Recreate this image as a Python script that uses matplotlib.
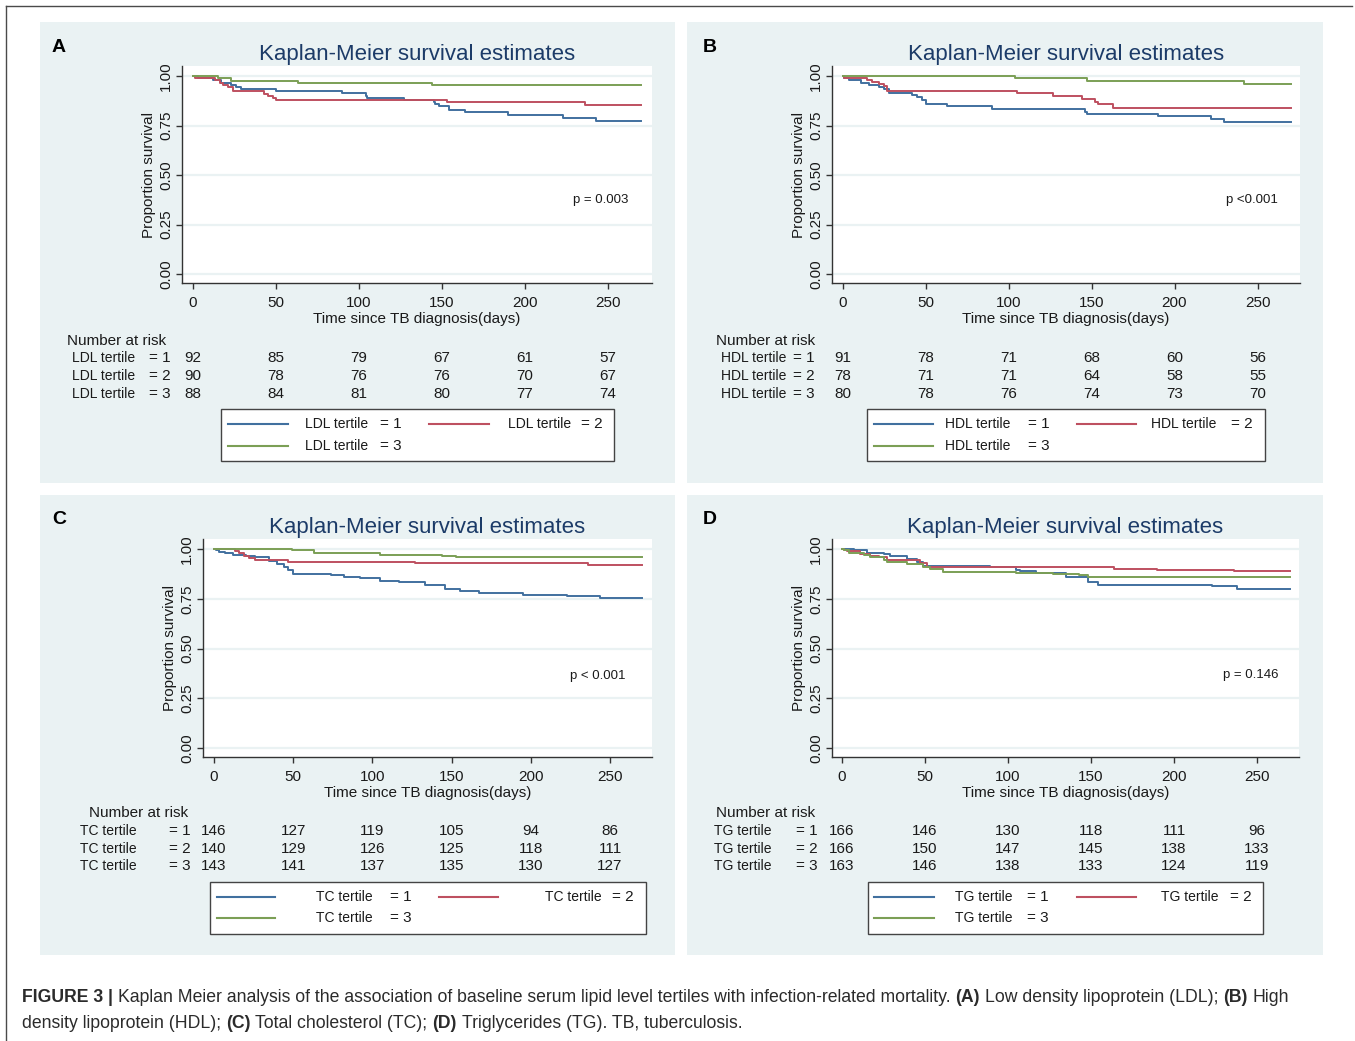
import matplotlib
matplotlib.use('Agg')
import matplotlib.pyplot as plt
from matplotlib.patches import Rectangle
from matplotlib.lines import Line2D
from matplotlib.transforms import blended_transform_factory

W, H = 1355, 1041
plt.rcParams['font.family'] = ['Liberation Sans', 'DejaVu Sans']

# ---------------- data ----------------
TIME_TICKS = [0, 50, 100, 150, 200, 250]
SURV_TICKS = [0.0, 0.25, 0.50, 0.75, 1.00]
SURV_TICKLABELS = ['0.00', '0.25', '0.50', '0.75', '1.00']
TITLE = 'Kaplan-Meier survival estimates'
XLABEL = 'Time since TB diagnosis(days)'
YLABEL = 'Proportion survival'
GROUPS = ['= 1', '= 2', '= 3']

# Panel A: LDL tertiles
A_t1 = [0, 3, 12, 17, 23, 26, 29, 50, 90, 104, 105, 127, 145, 146, 148, 154, 164, 190, 223, 243, 270]
A_s1 = [1, .989, .978, .967, .956, .945, .934, .923, .912, .901, .890, .879, .868, .857, .846, .828, .816, .803, .790, .775, .775]
A_t2 = [0, 1, 13, 16, 18, 21, 24, 43, 45, 48, 50, 153, 236, 270]
A_s2 = [1, .989, .978, .967, .956, .944, .922, .911, .900, .889, .878, .867, .855, .855]
A_t3 = [0, 15, 23, 63, 144, 270]
A_s3 = [1, .989, .977, .966, .955, .955]
A_risk = [[92, 85, 79, 67, 61, 57], [90, 78, 76, 76, 70, 67], [88, 84, 81, 80, 77, 74]]

# Panel B: HDL tertiles
B_t1 = [0, 1, 4, 11, 16, 22, 25, 28, 42, 45, 48, 50, 63, 90, 146, 147, 190, 222, 230, 270]
B_s1 = [1, .989, .978, .967, .956, .945, .934, .916, .905, .895, .880, .857, .846, .835, .820, .808, .797, .785, .770, .770]
B_t2 = [0, 1, 15, 18, 22, 25, 27, 105, 127, 144, 152, 154, 163, 270]
B_s2 = [1, .990, .980, .970, .960, .947, .922, .912, .900, .884, .870, .857, .840, .840]
B_t3 = [0, 104, 147, 242, 270]
B_s3 = [1, .988, .975, .960, .960]
B_risk = [[91, 78, 71, 68, 60, 56], [78, 71, 71, 64, 58, 55], [80, 78, 76, 74, 73, 70]]

# Panel C: TC tertiles
C_t1 = [0, 1, 3, 7, 12, 20, 26, 35, 40, 44, 47, 50, 74, 82, 92, 105, 117, 133, 146, 155, 167, 195, 223, 244, 270]
C_s1 = [1, .993, .986, .979, .972, .965, .958, .938, .924, .910, .897, .877, .869, .860, .855, .841, .832, .818, .800, .790, .780, .771, .763, .754, .754]
C_t2 = [0, 13, 16, 19, 22, 26, 47, 127, 236, 270]
C_s2 = [1, .990, .978, .966, .953, .943, .936, .928, .919, .919]
C_t3 = [0, 49, 63, 105, 144, 153, 270]
C_s3 = [1, .993, .979, .972, .965, .958, .958]
C_risk = [[146, 127, 119, 105, 94, 86], [140, 129, 126, 125, 118, 111], [143, 141, 137, 135, 130, 127]]

# Panel D: TG tertiles
D_t1 = [0, 7, 15, 25, 29, 39, 45, 49, 89, 105, 107, 117, 135, 148, 154, 223, 238, 270]
D_s1 = [1, .994, .982, .976, .964, .952, .936, .916, .908, .896, .888, .878, .857, .835, .818, .812, .800, .800]
D_t2 = [0, 1, 3, 11, 17, 22, 27, 47, 51, 164, 190, 236, 270]
D_s2 = [1, .994, .988, .976, .964, .958, .946, .928, .910, .902, .896, .889, .889]
D_t3 = [0, 1, 4, 13, 17, 25, 27, 39, 49, 53, 61, 105, 127, 143, 148, 270]
D_s3 = [1, .994, .982, .970, .960, .944, .936, .925, .910, .902, .886, .881, .877, .870, .857, .857]
D_risk = [[166, 146, 130, 118, 111, 96], [166, 150, 147, 145, 138, 133], [163, 146, 138, 133, 124, 119]]

# ---------------- styles ----------------
BG = '#EAF2F3'
COLORS = ['#41709F', '#BE5060', '#7B9F55']
AXC = '#333333'
TXT = '#1a1a1a'
TITLE_C = '#1C3B68'

panels = [
    dict(letter='A', var='LDL', t=[A_t1, A_t2, A_t3], s=[A_s1, A_s2, A_s3], risk=A_risk,
         p='p = 0.003', pxy=(229, 0.374),
         bg=(40, 22, 675, 483), ax=(182, 66, 652, 283), x0px=193, x250px=608,
         lpos=(52, 47), nar=(67, 341), rows=[358, 376, 394], labx=72, eqx=149,
         box=(221, 409, 614, 461), lrows=[424, 446],
         l1=(228, 288), lab1=305, eq1=380, l2=(429, 489), lab2=508, eq2=581),
    dict(letter='B', var='HDL', t=[B_t1, B_t2, B_t3], s=[B_s1, B_s2, B_s3], risk=B_risk,
         p='p <0.001', pxy=(231, 0.374),
         bg=(687, 22, 1323, 483), ax=(832, 66, 1300, 283), x0px=842.5, x250px=1257.5,
         lpos=(703, 47), nar=(716, 341), rows=[358, 376, 394], labx=721, eqx=793,
         box=(867, 409, 1265, 461), lrows=[424, 446],
         l1=(874, 933), lab1=945, eq1=1028, l2=(1077, 1136), lab2=1151, eq2=1231),
    dict(letter='C', var='TC', t=[C_t1, C_t2, C_t3], s=[C_s1, C_s2, C_s3], risk=C_risk,
         p='p < 0.001', pxy=(225, 0.364),
         bg=(40, 495, 675, 955), ax=(203, 539, 652, 757), x0px=214, x250px=610,
         lpos=(52, 519), nar=(89, 813), rows=[831, 849, 866], labx=80, eqx=169,
         box=(210, 882, 646, 934), lrows=[897, 918],
         l1=(217, 275), lab1=316, eq1=390, l2=(439, 498), lab2=545, eq2=612),
    dict(letter='D', var='TG', t=[D_t1, D_t2, D_t3], s=[D_s1, D_s2, D_s3], risk=D_risk,
         p='p = 0.146', pxy=(229.5, 0.369),
         bg=(687, 495, 1323, 955), ax=(832, 539, 1299, 757), x0px=842, x250px=1257,
         lpos=(703, 519), nar=(716, 813), rows=[831, 849, 866], labx=714, eqx=796,
         box=(868, 882, 1263, 934), lrows=[897, 918],
         l1=(874, 934), lab1=955, eq1=1027, l2=(1077, 1136), lab2=1161, eq2=1230),
]

Y1PX_OFF = 10   # px between plot top and y=1
Y0PX_OFF = 9    # px between y=0 and plot bottom
YSPAN = 198     # px per unit of survival

fig = plt.figure(figsize=(W / 100, H / 100), dpi=100)
fig.patch.set_facecolor('white')


def fx(x):
    return x / W


def fy(y):
    return 1 - y / H


# outer frame (top and left lines)
fig.add_artist(Line2D([fx(6), fx(1352)], [fy(6), fy(6)], color='#4a4a4a', lw=1.0))
fig.add_artist(Line2D([fx(6), fx(6)], [fy(6), fy(1041)], color='#4a4a4a', lw=1.0))

for P in panels:
    bx0, by0, bx1, by1 = P['bg']
    fig.add_artist(Rectangle((fx(bx0), fy(by1)), (bx1 - bx0) / W, (by1 - by0) / H,
                             transform=fig.transFigure, facecolor=BG, edgecolor='none', zorder=0))
    l, t, r, b = P['ax']
    ax = fig.add_axes([fx(l), fy(b), (r - l) / W, (b - t) / H])
    ax.set_facecolor('white')
    pxd = (P['x250px'] - P['x0px']) / 250.0
    ax.set_xlim((l - P['x0px']) / pxd, (r - P['x0px']) / pxd)
    ax.set_ylim(-Y0PX_OFF / YSPAN, 1 + Y1PX_OFF / YSPAN)
    for yv in SURV_TICKS:
        ax.axhline(yv, color=BG, lw=1.6, zorder=1)
    for tt, ss, c in zip(P['t'], P['s'], COLORS):
        ax.step(tt, ss, where='post', color=c, lw=1.4, zorder=3)
    for side in ['top', 'right']:
        ax.spines[side].set_visible(False)
    for side in ['left', 'bottom']:
        ax.spines[side].set_color(AXC)
        ax.spines[side].set_linewidth(1.0)
    ax.set_xticks(TIME_TICKS)
    ax.set_yticks(SURV_TICKS)
    ax.set_yticklabels(SURV_TICKLABELS)
    ax.tick_params(direction='out', length=4.5, width=1.0, color=AXC, labelsize=11, labelcolor=TXT)
    ax.tick_params(axis='x', pad=5)
    ax.tick_params(axis='y', pad=2)
    for lab in ax.get_yticklabels():
        lab.set_rotation(90)
        lab.set_va('center')
        lab.set_ha('right')
    ax.set_xlabel(XLABEL, fontsize=11, color=TXT, labelpad=1)
    ax.set_ylabel(YLABEL, fontsize=11, color=TXT, labelpad=2)
    ax.set_title(TITLE, fontsize=16, color=TITLE_C, pad=4.5)
    ax.text(P['pxy'][0], P['pxy'][1], P['p'], fontsize=9.5, color=TXT, ha='left', va='center')

    # panel letter
    fig.text(fx(P['lpos'][0]), fy(P['lpos'][1]), P['letter'], fontsize=14, fontweight='bold',
             color='black', ha='left', va='center')

    # number at risk table
    fig.text(fx(P['nar'][0]), fy(P['nar'][1]), 'Number at risk', fontsize=11, color=TXT,
             ha='left', va='center')
    trans = blended_transform_factory(ax.transData, fig.transFigure)
    for gi, (row, yy) in enumerate(zip(P['risk'], P['rows'])):
        fig.text(fx(P['labx']), fy(yy), P['var'] + ' tertile', fontsize=10, color=TXT,
                 ha='left', va='center')
        fig.text(fx(P['eqx']), fy(yy), GROUPS[gi], fontsize=11, color=TXT, ha='left', va='center')
        for tv, n in zip(TIME_TICKS, row):
            ax.text(tv, fy(yy), str(n), transform=trans, fontsize=11, color=TXT,
                    ha='center', va='center', clip_on=False)

    # legend box
    x0, y0, x1, y1 = P['box']
    fig.add_artist(Rectangle((fx(x0), fy(y1)), (x1 - x0) / W, (y1 - y0) / H,
                             transform=fig.transFigure, facecolor='white', edgecolor='#444444',
                             lw=1.0, zorder=2))
    entries = [(0, P['l1'], P['lab1'], P['eq1'], P['lrows'][0]),
               (1, P['l2'], P['lab2'], P['eq2'], P['lrows'][0]),
               (2, P['l1'], P['lab1'], P['eq1'], P['lrows'][1])]
    for gi, (la, lb), labx, eqx, yy in entries:
        fig.add_artist(Line2D([fx(la), fx(lb)], [fy(yy), fy(yy)], color=COLORS[gi], lw=1.5, zorder=3))
        fig.text(fx(labx), fy(yy), P['var'] + ' tertile', fontsize=10, color=TXT,
                 ha='left', va='center', zorder=3)
        fig.text(fx(eqx), fy(yy), GROUPS[gi], fontsize=11, color=TXT, ha='left', va='center', zorder=3)

# ---------------- caption ----------------
CAP1 = [('FIGURE 3 |', 'bold'),
        ('Kaplan Meier analysis of the association of baseline serum lipid level tertiles with infection-related mortality.', 'normal'),
        ('(A)', 'bold'), ('Low density lipoprotein (LDL);', 'normal'), ('(B)', 'bold'), ('High', 'normal')]
CAP2 = [('density lipoprotein (HDL);', 'normal'), ('(C)', 'bold'), ('Total cholesterol (TC);', 'normal'),
        ('(D)', 'bold'), ('Triglycerides (TG). TB, tuberculosis.', 'normal')]

renderer = fig.canvas.get_renderer()


def draw_line(pieces, x0, y, fs):
    arts = []
    x = x0
    space = fs * 100 / 72 * 0.278
    for i, (txt, wt) in enumerate(pieces):
        if i > 0:
            x += space
        tt = fig.text(fx(x), fy(y), txt, fontsize=fs, fontweight=wt, color='#2b2b2b',
                      ha='left', va='center')
        bb = tt.get_window_extent(renderer)
        x = bb.x1
        arts.append(tt)
    return arts, x


fs_cap = 11.0
for _ in range(3):
    arts, xe = draw_line(CAP1, 22, 997, fs_cap)
    for a in arts:
        a.remove()
    fs_cap = fs_cap * (1300 - 22) / (xe - 22)
draw_line(CAP1, 22, 997, fs_cap)
draw_line(CAP2, 22, 1023, fs_cap)

fig.savefig('out.png', dpi=100, facecolor='white')
